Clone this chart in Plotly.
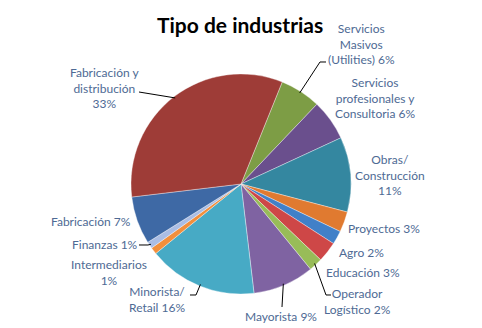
import math
import plotly.graph_objects as go

# Industry mix, in the order the slices run clockwise from the rotation angle
categories = [
    "Servicios Masivos (Utilities)",
    "Servicios profesionales y Consultoria",
    "Obras/ Construcción",
    "Proyectos",
    "Agro",
    "Educación",
    "Operador Logístico",
    "Mayorista",
    "Minorista/ Retail",
    "Intermediarios",
    "Finanzas",
    "Fabricación",
    "Fabricación y distribución",
]
values = [6, 6, 11, 3, 2, 3, 2, 9, 16, 1, 1, 7, 33]

# Label text as shown beside each slice (line breaks included)
label_texts = [
    "Servicios<br>Masivos<br>(Utilities) 6%",
    "Servicios<br>profesionales y<br>Consultoria 6%",
    "Obras/<br>Construcción<br>11%",
    "Proyectos 3%",
    "Agro 2%",
    "Educación 3%",
    "Operador<br>Logístico 2%",
    "Mayorista 9%",
    "Minorista/<br>Retail 16%",
    "Intermediarios<br>1%",
    "Finanzas 1%",
    "Fabricación 7%",
    "Fabricación y<br>distribución<br>33%",
]

colors = [
    "#7D9D45", "#6A4F8D", "#3487A0", "#E07A30", "#4180C8", "#CE4747",
    "#98BC58", "#7F63A2", "#47AAC5", "#F28F3C", "#AABDE4", "#3E69A5",
    "#9E3C37",
]

W, H = 482, 328
CX, CY, R = 241, 184, 110   # pie centre and radius in pixels
ROTATION = 22                # first slice starts 22° clockwise from 12 o'clock

# Label anchor centres (pixels) and leader-line label ends
label_pos = [
    (361, 44), (375, 98), (390, 175), (384, 229), (361, 252), (363, 272),
    (357, 301), (281, 316), (157, 299), (109, 272), (105, 244), (91, 221),
    (104, 88),
]
# Leader lines: slice index -> list of pixel points after the slice edge
leaders = {
    0: [(320, 62), (326, 62)],
    6: [(326, 295), (331, 295)],
    7: [(282, 307)],
    8: [(196, 295), (190, 295)],
    10: [(148, 245), (139, 245)],
    12: [(139, 92)],
}

def px(x):
    return x / W

def py(y):
    return 1 - y / H

fig = go.Figure(
    go.Pie(
        labels=categories,
        values=values,
        sort=False,
        direction="clockwise",
        rotation=ROTATION,
        marker=dict(colors=colors, line=dict(color="rgba(255,255,255,0.6)", width=0.6)),
        textinfo="none",
        hoverinfo="label+percent",
        showlegend=False,
        domain=dict(x=[px(CX - R), px(CX + R)], y=[py(CY + R), py(CY - R)]),
    )
)

label_color = "#4E6A94"
font_family = "Lato, 'Open Sans', sans-serif"

annotations = [
    dict(
        text="<b>Tipo de industrias</b>",
        x=px(240), y=py(25), xref="paper", yref="paper",
        xanchor="center", yanchor="middle", showarrow=False,
        font=dict(family=font_family, size=21, color="#000000"),
    )
]
for text, (lx, ly) in zip(label_texts, label_pos):
    annotations.append(
        dict(
            text=text, x=px(lx), y=py(ly), xref="paper", yref="paper",
            xanchor="center", yanchor="middle", showarrow=False,
            align="center",
            font=dict(family=font_family, size=12, color=label_color),
        )
    )

# Leader lines start at the middle of each slice, just inside the rim
total = sum(values)
cum = 0
mid_angles = []
for v in values:
    mid_angles.append(ROTATION + (cum + v / 2) / total * 360)
    cum += v

shapes = []
for idx, pts in leaders.items():
    a = math.radians(mid_angles[idx])
    sx = CX + 0.985 * R * math.sin(a)
    sy = CY - 0.985 * R * math.cos(a)
    path_pts = [(sx, sy)] + pts
    path = "M " + " L ".join(f"{px(x):.5f},{py(y):.5f}" for x, y in path_pts)
    shapes.append(
        dict(type="path", path=path, xref="paper", yref="paper",
             line=dict(color="#000000", width=1))
    )

fig.update_layout(
    width=W, height=H,
    margin=dict(l=0, r=0, t=0, b=0),
    paper_bgcolor="#FFFFFF",
    plot_bgcolor="#FFFFFF",
    annotations=annotations,
    shapes=shapes,
)

fig.write_html("out.html")
